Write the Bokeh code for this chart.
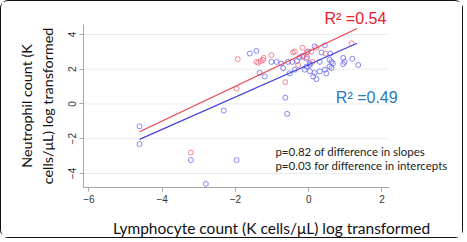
from bokeh.plotting import figure
from bokeh.models import (Range1d, Label, FixedTicker, SingleIntervalTicker,
                          ColumnDataSource, Title, AllLabels)
from bokeh.embed import file_html
from bokeh.resources import INLINE
import numpy as np

# ---- data ----
blue_x = [-4.62, -4.62, -3.22, -2.81, -2.32, -1.97,
          -1.61, -1.43, -1.34, -1.20, -1.02, -0.88, -0.75, -0.70, -0.57, -0.45,
          -0.32, -0.25, -0.16, -0.52, -0.38, -0.06, -0.06, 0.03, -0.64, -0.59,
          0.16, 0.44, 0.35, 0.59, 0.57, 0.62, 0.66, 0.94, 0.98, 0.94, 1.19, 1.35,
          0.30, 0.03, -0.11, 0.03, 0.16, 0.12, 0.21, 0.30, 0.44, 0.48, 0.57, 0.62, -0.03]
blue_y = [-1.29, -2.31, -3.23, -4.60, -0.38, -3.23,
          2.90, 3.05, 1.79, 1.58, 2.42, 2.42, 2.33, 2.06, 2.42, 2.42,
          2.47, 2.69, 2.78, 1.76, 1.97, 2.60, 2.15, 2.33, 0.36, -0.57,
          3.31, 3.37, 2.96, 2.90, 2.54, 2.42, 2.33, 2.65, 2.42, 2.29, 2.60, 2.24,
          2.42, 2.24, 1.97, 1.88, 1.79, 1.58, 1.43, 1.88, 1.97, 1.76, 2.15, 2.06, 3.01]
red_x = [-3.22, -1.94, -1.97, -1.43, -1.38, -1.32, -1.25, -1.23, -1.02, -0.43,
         -0.38, -0.17, -0.29, -0.64, -0.06, 0.07, -0.17, -0.05, 0.10, 0.46, 1.17, 0.21]
red_y = [-2.80, 2.58, 0.88, 2.42, 2.37, 2.46, 2.54, 2.65, 2.81, 2.96,
         3.01, 3.23, 2.24, 1.25, 2.96, 3.01, 2.69, 2.69, 2.42, 2.90, 3.49, 3.23]

# fitted lines: slope, intercept, x extent
red_fit = {"slope": 1.00, "intercept": 3.02}
blue_fit = {"slope": 0.93, "intercept": 2.26}
fit_x = [-4.62, 1.32]

x_tick_step = 2
y_ticks = [-4, -2, 0, 2, 4]
x_lo, x_hi, x_axis_end = -6.150, 4.116, 2.2
y_lo, y_hi = -4.805, 4.57

r2_red = "R\u00b2 =0.54"
r2_blue = "R\u00b2 =0.49"
note1 = "p=0.82 of difference in slopes"
note2 = "p=0.03 for difference in intercepts"
x_title = "Lymphocyte count (K cells/\u03bcL) log transformed"
y_title = "Neutrophil count (K\ncells/\u03bcL) log transformed"

RED = "#ee4050"
BLUE = "#4040e0"
AXIS = "#a8a8a8"

p = figure(width=463, height=238, output_backend="svg", toolbar_location=None,
           x_range=Range1d(x_lo, x_hi), y_range=Range1d(y_lo, y_hi),
           min_border_left=82, min_border_right=5, min_border_top=23, min_border_bottom=40)
p.styles = {"border": "1.5px solid #111111", "border-radius": "8px"}
p.outline_line_color = None
p.background_fill_color = "white"
p.border_fill_color = "white"

p.add_layout(Title(text=r2_red, text_color="#e8202a", text_font="Liberation Sans",
                   text_font_size="16px", text_font_style="normal",
                   align="left", offset=241, standoff=-5), "above")

p.xgrid.grid_line_color = None
p.ygrid.grid_line_color = None
# horizontal grid lines that stop where the x axis ends
p.segment(x0=[x_lo] * len(y_ticks), y0=y_ticks, x1=[x_axis_end] * len(y_ticks), y1=y_ticks,
          line_color="#ebebeb", line_width=1, level="underlay")

for ax in (p.xaxis[0], p.yaxis[0]):
    ax.axis_line_color = AXIS
    ax.major_tick_line_color = AXIS
    ax.minor_tick_line_color = None
    ax.major_tick_out = 4
    ax.major_tick_in = 0
    ax.major_label_text_font = "Liberation Sans"
    ax.major_label_text_font_size = "10px"
    ax.major_label_text_color = "#333333"
    ax.major_label_policy = AllLabels()
    ax.axis_label_text_font = "Lato"
    ax.axis_label_text_font_style = "normal"
    ax.axis_label_text_color = "#111111"

p.xaxis.bounds = (x_lo, x_axis_end)
p.xaxis.axis_label_text_font_size = "15.5px"
p.yaxis.axis_label_text_font_size = "14.3px"
p.xaxis.ticker = SingleIntervalTicker(interval=x_tick_step, num_minor_ticks=0)
p.yaxis.ticker = FixedTicker(ticks=y_ticks)
p.yaxis.major_label_orientation = "vertical"
p.xaxis.axis_label = x_title
p.yaxis.axis_label = y_title
p.xaxis.major_label_standoff = 3
p.xaxis.axis_label_standoff = 13
p.yaxis.major_label_standoff = 3
p.yaxis.axis_label_standoff = 10

src_b = ColumnDataSource(dict(x=blue_x, y=blue_y))
src_r = ColumnDataSource(dict(x=red_x, y=red_y))
p.scatter("x", "y", source=src_b, size=5, fill_color=None, line_color="#6060f0",
          line_alpha=0.75, line_width=1)
p.scatter("x", "y", source=src_r, size=5, fill_color=None, line_color="#f06070",
          line_alpha=0.75, line_width=1)

fx = np.array(fit_x)
p.line(fx, red_fit["slope"] * fx + red_fit["intercept"], line_color=RED, line_width=1.2)
p.line(fx, blue_fit["slope"] * fx + blue_fit["intercept"], line_color=BLUE, line_width=1.2)

p.add_layout(Label(x=0.74, y=0.38, text=r2_blue, text_color="#2a7ac0",
                   text_font="Liberation Sans", text_font_size="16px",
                   text_baseline="middle", text_align="left"))
p.add_layout(Label(x=-0.91, y=-2.74, text=note1, text_color="#222222",
                   text_font="Lato", text_font_size="11.5px",
                   text_baseline="middle", text_align="left"))
p.add_layout(Label(x=-0.91, y=-3.55, text=note2, text_color="#222222",
                   text_font="Lato", text_font_size="11.5px",
                   text_baseline="middle", text_align="left"))

open("out.html", "w").write(file_html(p, INLINE))
